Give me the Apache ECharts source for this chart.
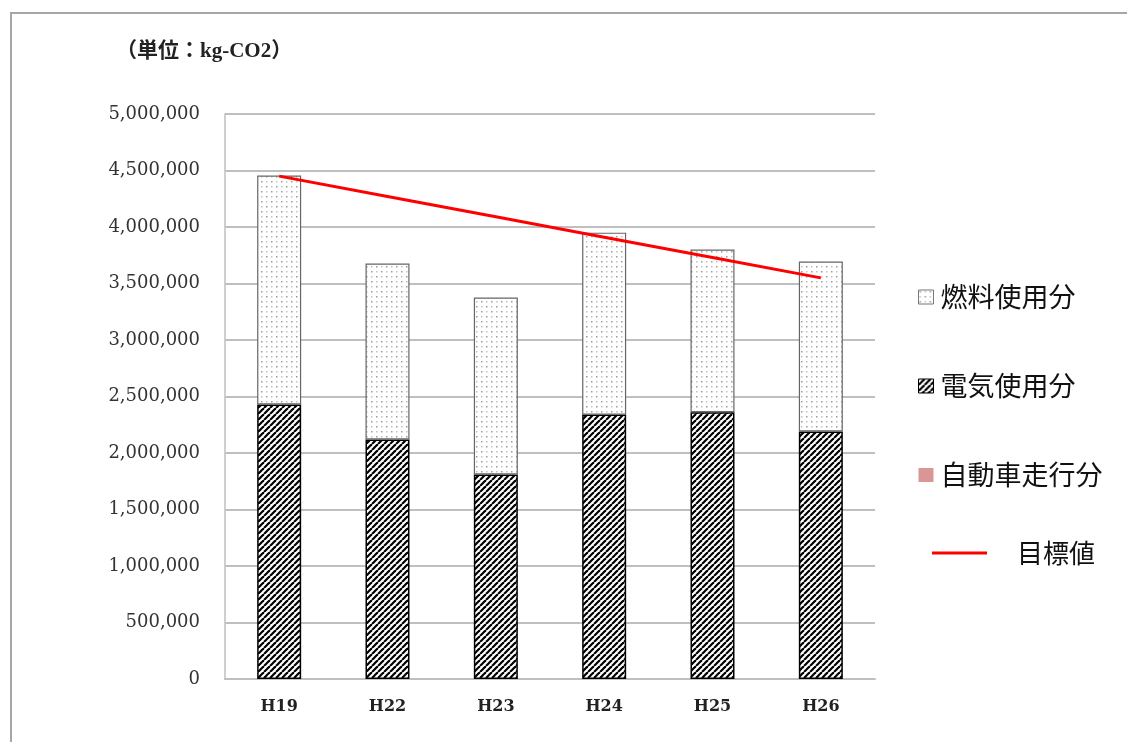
<!DOCTYPE html>
<html>
<head>
<meta charset="utf-8">
<script src="https://cdn.jsdelivr.net/npm/echarts@6/dist/echarts.min.js"></script>
<style>html,body{margin:0;padding:0;background:#fff;}#c{width:1127px;height:742px;}</style>
</head>
<body>
<div id="c"></div>
<script>
const categories = ['H19', 'H22', 'H23', 'H24', 'H25', 'H26'];
const electric = [2430000, 2120000, 1810000, 2340000, 2360000, 2190000];
const fuel = [2025000, 1557000, 1566000, 1610000, 1440000, 1505000];
const car = [0, 0, 0, 0, 0, 0];
const target = [4450000, 4270000, 4090000, 3910000, 3730000, 3550000];
const yTicks = { min: 0, max: 5000000, interval: 500000 };
const unitLabel = '（単位：kg-CO2）';

function hatchPattern() {
  const s = 6;
  const c = document.createElement('canvas');
  c.width = s; c.height = s;
  const g = c.getContext('2d');
  g.fillStyle = '#ffffff'; g.fillRect(0, 0, s, s);
  g.strokeStyle = '#000000'; g.lineWidth = 2.2;
  for (let k = -1; k <= 1; k++) {
    g.beginPath();
    g.moveTo(k * s, s);
    g.lineTo(k * s + s, 0);
    g.stroke();
  }
  return c;
}
function dotPattern() {
  const s = 10;
  const c = document.createElement('canvas');
  c.width = s; c.height = s;
  const g = c.getContext('2d');
  g.fillStyle = '#ffffff'; g.fillRect(0, 0, s, s);
  g.fillStyle = '#9a9a9a';
  g.fillRect(1, 1, 1.5, 1.5);
  g.fillRect(6, 6, 1.5, 1.5);
  g.fillStyle = '#c4c4c4';
  g.fillRect(6, 1, 1.5, 1.5);
  g.fillRect(1, 6, 1.5, 1.5);
  return c;
}
const hatch = { image: hatchPattern(), repeat: 'repeat' };
const dots = { image: dotPattern(), repeat: 'repeat' };

const chart = echarts.init(document.getElementById('c'));
const cjk = "'Noto Sans CJK JP', 'Noto Sans', sans-serif";
const serif = "'DejaVu Serif', 'Liberation Serif', serif";
chart.setOption({
  animation: false,
  backgroundColor: '#ffffff',
  graphic: [
    { type: 'rect', shape: { x: 11, y: 13, width: 1300, height: 900 }, style: { fill: 'none', stroke: '#a6a6a6', lineWidth: 2 }, silent: true },
    { type: 'text', left: 116, top: 41, style: { text: unitLabel, font: "bold 21px 'Liberation Serif', 'Noto Sans CJK JP', serif", fill: '#222' } }
  ],
  grid: { left: 225, right: 252, top: 114, bottom: 63 },
  legend: [
    {
      data: [
        { name: '燃料使用分', icon: 'rect', itemStyle: { color: dots, borderColor: '#777', borderWidth: 1 } },
        { name: '電気使用分', icon: 'rect', itemStyle: { color: hatch, borderColor: '#000', borderWidth: 1 } },
        { name: '自動車走行分', icon: 'rect', itemStyle: { color: '#d99694', borderWidth: 0 } }
      ],
      orient: 'vertical', left: 913, top: 278, itemGap: 61, itemWidth: 15, itemHeight: 14,
      textStyle: { fontFamily: cjk, fontSize: 27, lineHeight: 28, color: '#111', padding: [0, 0, 0, 2] }
    },
    {
      data: [{ name: '目標値', icon: 'rect' }],
      orient: 'vertical', left: 927, top: 534, itemWidth: 55, itemHeight: 3,
      textStyle: { fontFamily: cjk, fontSize: 26, lineHeight: 28, color: '#111', padding: [0, 0, 0, 25] }
    }
  ],
  xAxis: {
    type: 'category', data: categories,
    axisLine: { lineStyle: { color: '#bfbfbf', width: 2 } },
    axisTick: { show: false },
    axisLabel: { fontFamily: serif, fontWeight: 'bold', fontSize: 16, color: '#222', margin: 20 }
  },
  yAxis: {
    type: 'value', min: yTicks.min, max: yTicks.max, interval: yTicks.interval,
    axisLine: { show: true, lineStyle: { color: '#bfbfbf', width: 1.5 } },
    axisTick: { show: false },
    splitLine: { lineStyle: { color: '#bfbfbf', width: 2 } },
    axisLabel: {
      fontFamily: serif, fontSize: 18, color: '#333', margin: 25,
      formatter: v => v.toLocaleString('en-US')
    }
  },
  series: [
    { name: '電気使用分', type: 'bar', stack: 'total', data: electric, barWidth: 44,
      itemStyle: { color: hatch, borderColor: '#000', borderWidth: 1.5 } },
    { name: '燃料使用分', type: 'bar', stack: 'total', data: fuel, barWidth: 44,
      itemStyle: { color: dots, borderColor: '#666', borderWidth: 1.2 } },
    { name: '自動車走行分', type: 'bar', stack: 'total', data: car, barWidth: 44,
      itemStyle: { color: '#d99694' } },
    { name: '目標値', type: 'line', data: target, symbol: 'none', z: 5,
      lineStyle: { color: '#ff0000', width: 3 }, itemStyle: { color: '#ff0000' } }
  ]
});
</script>
</body>
</html>
